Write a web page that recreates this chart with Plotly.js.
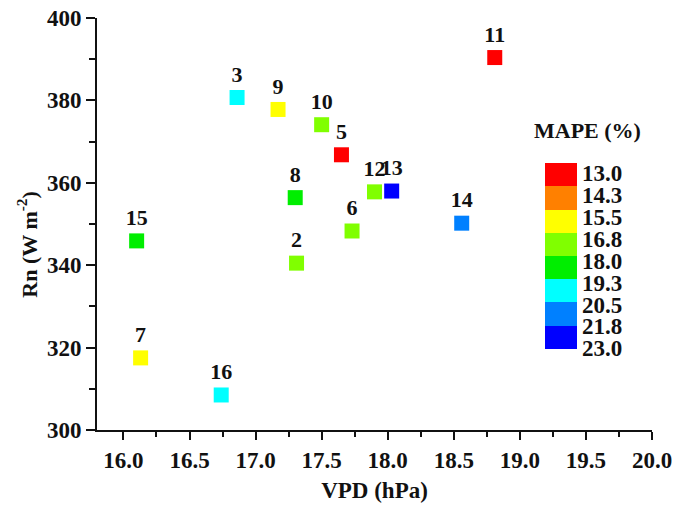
<!DOCTYPE html>
<html>
<head>
<meta charset="utf-8">
<script src="https://cdn.plot.ly/plotly-3.0.1.min.js"></script>
<style>html,body{margin:0;padding:0;background:#fff;}#chart{width:673px;height:506px;}</style>
</head>
<body>
<div id="chart"></div>
<script>
// Data
const siteIds = ['2', '3', '5', '6', '7', '8', '9', '10', '11', '12', '13', '14', '15', '16'];
const vpd     = [17.31, 16.86, 17.65, 17.73, 16.13, 17.30, 17.17, 17.50, 18.81, 17.90, 18.03, 18.56, 16.10, 16.74];
const rn      = [340.5, 380.7, 366.8, 348.3, 317.5, 356.4, 377.8, 374.1, 390.4, 357.8, 358.0, 350.2, 345.9, 308.5];
const mape    = [17.3, 19.8, 13.8, 17.4, 16.2, 18.6, 16.0, 17.5, 13.5, 17.6, 22.5, 21.0, 18.8, 20.0];

const cbTickText = ['13.0', '14.3', '15.5', '16.8', '18.0', '19.3', '20.5', '21.8', '23.0'];
const binColors  = ['#ff0000', '#ff8000', '#ffff00', '#80ff00', '#00ee00', '#00ffff', '#0080ff', '#0000ff'];
const mapeMin = 13, mapeMax = 23;

// Colour bar runs top-down (13 at top), so colour by negated MAPE
const negMape = mape.map(v => -v);
const colorscale = [];
const nb = binColors.length;
for (let i = 0; i < nb; i++) {
  const c = binColors[nb - 1 - i];
  colorscale.push([i / nb, c]);
  colorscale.push([(i + 1) / nb, c]);
}
// label positions: spread slightly inside the bar as in the reference
const lblTop = -(mapeMin + 0.55), lblBot = -(mapeMax - 0.05);
const cbTickVals = cbTickText.map((_, i) => lblTop + (lblBot - lblTop) * i / (cbTickText.length - 1));

const serif = 'Liberation Serif, Times New Roman, serif';
const bold = (size) => ({family: serif, size: size, color: '#111', weight: 'bold'});

const trace = {
  type: 'scatter',
  mode: 'markers+text',
  x: vpd,
  y: rn,
  text: siteIds,
  textposition: 'top center',
  textfont: bold(22),
  marker: {
    symbol: 'square',
    size: 15,
    color: negMape,
    cmin: -mapeMax,
    cmax: -mapeMin,
    colorscale: colorscale,
    line: {width: 0},
    showscale: true,
    colorbar: {
      x: 0.807, xanchor: 'left',
      y: 0.422, yanchor: 'middle',
      len: 186, lenmode: 'pixels',
      thickness: 32, thicknessmode: 'pixels',
      xpad: 0, ypad: 0,
      outlinewidth: 0,
      ticks: '',
      tickvals: cbTickVals,
      ticktext: cbTickText,
      tickfont: bold(23)
    }
  },
  cliponaxis: false,
  hoverinfo: 'x+y+text'
};

const layout = {
  width: 673,
  height: 506,
  margin: {l: 97, r: 21, t: 18, b: 76},
  paper_bgcolor: '#fff',
  plot_bgcolor: '#fff',
  showlegend: false,
  font: bold(20),
  xaxis: {
    range: [15.8, 20.0],
    tickvals: [16, 16.5, 17, 17.5, 18, 18.5, 19, 19.5, 20],
    tickformat: '.1f',
    ticks: 'outside', ticklen: 8, tickwidth: 2, tickcolor: '#111',
    minor: {tickvals: [16.25, 16.75, 17.25, 17.75, 18.25, 18.75, 19.25, 19.75], ticks: 'outside', ticklen: 5, tickwidth: 2, tickcolor: '#111', showgrid: false},
    showline: true, linewidth: 2, linecolor: '#111',
    showgrid: false, zeroline: false,
    tickfont: bold(23),
    title: {text: 'VPD (hPa)', font: bold(23), standoff: 10}
  },
  yaxis: {
    range: [300, 400],
    tickvals: [300, 320, 340, 360, 380, 400],
    ticks: 'outside', ticklen: 9, tickwidth: 2, tickcolor: '#111',
    minor: {tickvals: [310, 330, 350, 370, 390], ticks: 'outside', ticklen: 6, tickwidth: 2, tickcolor: '#111', showgrid: false},
    showline: true, linewidth: 2, linecolor: '#111',
    showgrid: false, zeroline: false,
    tickfont: bold(23)
  },
  annotations: [{
    xref: 'paper', yref: 'paper',
    x: 0.883, y: 0.726,
    xanchor: 'center', yanchor: 'middle',
    text: 'MAPE (%)',
    showarrow: false,
    font: bold(22)
  }, {
    xref: 'paper', yref: 'paper',
    x: -0.126, y: 0.45,
    xanchor: 'center', yanchor: 'middle',
    textangle: -90,
    text: 'Rn (W m<sup>-2</sup>)',
    showarrow: false,
    font: bold(22)
  }]
};

Plotly.newPlot('chart', [trace], layout, {displayModeBar: false, staticPlot: true});
</script>
</body>
</html>
